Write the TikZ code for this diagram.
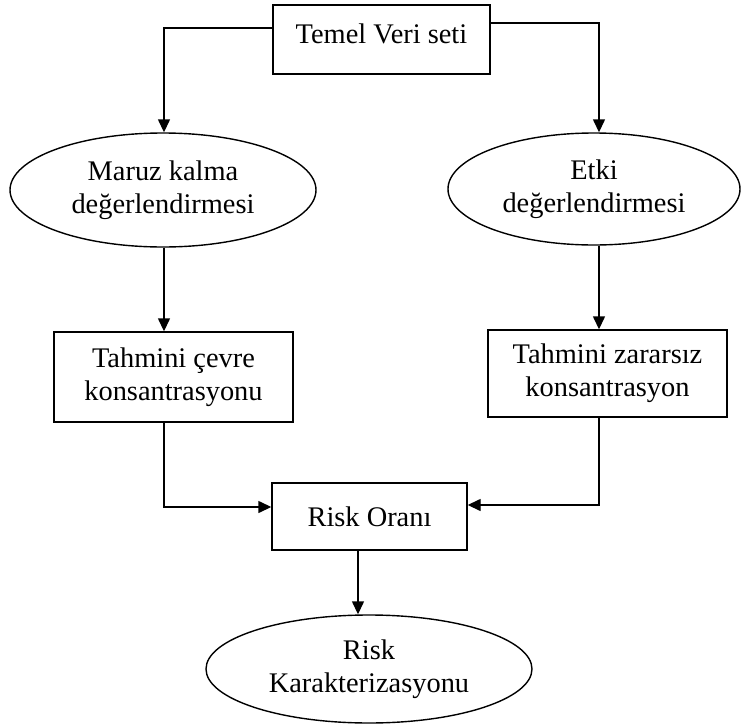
\documentclass[tikz,border=0pt]{standalone}
\usepackage{fontspec}
\setmainfont{Liberation Serif}
\usetikzlibrary{shapes.geometric,arrows.meta}
\begin{document}
\begin{tikzpicture}[x=0.5pt,y=-0.5pt,
    every node/.style={font=\fontsize{14.2}{16.5}\selectfont, align=center, line width=0.7pt},
    kutu/.style={draw, rectangle, inner sep=0pt},
    elips/.style={draw, ellipse, inner sep=0pt},
    ok/.style={line width=0.7pt, -{Triangle[length=6.5pt,width=6pt]}}]
  \useasboundingbox (0,0) rectangle (741,724);
  % kutular ve elipsler
  \node[kutu, minimum width=108.5pt, minimum height=34.5pt, text depth=6pt] (temel) at (381.5,39.5) {Temel Veri seti};
  \node[elips, minimum width=153pt, minimum height=57pt] (maruz) at (163,190) {Maruz kalma\\değerlendirmesi};
  \node[elips, minimum width=146pt, minimum height=56pt] (etki) at (594,189) {Etki\\değerlendirmesi};
  \node[kutu, minimum width=119.5pt, minimum height=45pt] (cevre) at (173.5,377) {Tahmini çevre\\konsantrasyonu};
  \node[kutu, minimum width=119.5pt, minimum height=43.5pt] (zararsiz) at (607.5,373.5) {Tahmini zararsız\\konsantrasyon};
  \node[kutu, minimum width=97.5pt, minimum height=33.5pt] (oran) at (369.5,516.5) {Risk Oranı};
  \node[elips, minimum width=163pt, minimum height=54pt] (karakter) at (369,669) {Risk\\Karakterizasyonu};
  % dikey hatlar
  \coordinate (solhat) at (164,0);
  \coordinate (saghat) at (599,0);
  \coordinate (orthat) at (358,0);
  % oklar
  \draw[ok] ([yshift=5.75pt]temel.west) -| (solhat |- maruz.north);
  \draw[ok] ([yshift=8.25pt]temel.east) -| (saghat |- etki.north);
  \draw[ok] (solhat |- maruz.south) -- (solhat |- cevre.north);
  \draw[ok] (saghat |- etki.south) -- (saghat |- zararsiz.north);
  \draw[ok] (solhat |- cevre.south) |- ([yshift=4.75pt]oran.west);
  \draw[ok] (saghat |- zararsiz.south) |- ([yshift=5.75pt]oran.east);
  \draw[ok] (orthat |- oran.south) -- (orthat |- karakter.north);
\end{tikzpicture}
\end{document}
